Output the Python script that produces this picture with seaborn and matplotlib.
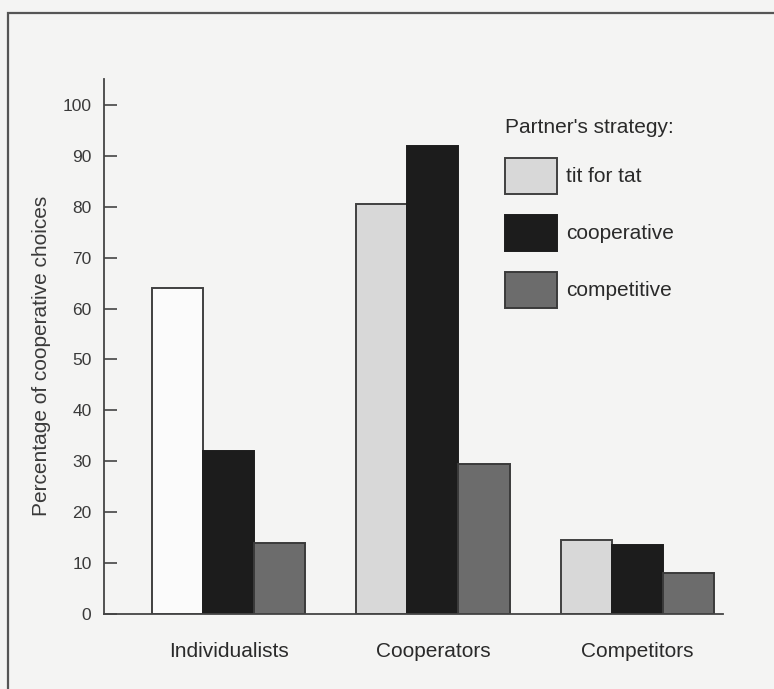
import matplotlib
matplotlib.use("Agg")
import matplotlib.pyplot as plt
import seaborn as sns
import pandas as pd
from matplotlib.patches import Rectangle, Patch

groups = ["Individualists", "Cooperators", "Competitors"]
strategies = ["tit for tat", "cooperative", "competitive"]
tit_for_tat = [64, 80.5, 14.5]
cooperative = [32, 92, 13.5]
competitive = [14, 29.5, 8]
yticks = [0, 10, 20, 30, 40, 50, 60, 70, 80, 90, 100]

rows = []
for s, vals in zip(strategies, [tit_for_tat, cooperative, competitive]):
    for g, v in zip(groups, vals):
        rows.append({"group": g, "strategy": s, "pct": v})
df = pd.DataFrame(rows)

bg = "#f4f4f3"
colors = {"tit for tat": "#d8d8d8", "cooperative": "#1c1c1c", "competitive": "#6c6c6c"}
edges = {"tit for tat": "#404040", "cooperative": "#1c1c1c", "competitive": "#3a3a3a"}

sns.set_style("white")
plt.rcParams["font.family"] = ["Liberation Sans", "DejaVu Sans"]

fig = plt.figure(figsize=(7.74, 6.89), dpi=100, facecolor=bg)
ax = fig.add_axes([104/774, 1-614/689, (723-104)/774, (614-79.5)/689])
ax.set_facecolor(bg)

sns.barplot(data=df, x="group", y="pct", hue="strategy", order=groups,
            hue_order=strategies, palette=colors, width=0.75, gap=0,
            ax=ax, legend=False, saturation=1)

for s, cont in zip(strategies, ax.containers):
    for p in cont:
        p.set_edgecolor(edges[s])
        p.set_linewidth(1.4)
# first tit-for-tat bar appears white in the reference
ax.containers[0][0].set_facecolor("#fbfbfb")

ax.set_ylim(0, 105)
ax.set_xlim(-0.61, 2.42)
ax.set_yticks(yticks)
ax.set_yticklabels([str(t) for t in yticks])
ax.tick_params(axis="y", direction="in", length=9, width=1.2, color="#444",
               labelsize=12.5, labelcolor="#3a3a3a", pad=9, left=True)
ax.tick_params(axis="x", length=0, labelsize=15, labelcolor="#2a2a2a", pad=20)
for side in ["top", "right"]:
    ax.spines[side].set_visible(False)
for side in ["left", "bottom"]:
    ax.spines[side].set_color("#444")
    ax.spines[side].set_linewidth(1.3)
ax.set_xlabel("")
ax.set_ylabel("Percentage of cooperative choices", fontsize=15, color="#3a3a3a")
ax.yaxis.set_label_coords(-0.085, 0.483)

handles = [Patch(facecolor=colors[s], edgecolor=edges[s], linewidth=1.4) for s in strategies]
leg = fig.legend(handles, strategies, title="Partner's strategy:", loc="upper left",
                 bbox_to_anchor=(505/774, 1-118/689), frameon=False, fontsize=15,
                 title_fontsize=15, handlelength=2.5, handleheight=2.29,
                 labelspacing=1.0, handletextpad=0.43, borderpad=0, borderaxespad=0,
                 alignment="left")
for t in leg.get_texts():
    t.set_color("#2a2a2a")
leg.get_title().set_color("#2a2a2a")

fig.patches.append(Rectangle((8/774, -0.05), 1.2, 1.05 - 13/689, transform=fig.transFigure,
                             fill=False, edgecolor="#555", linewidth=1.6))

fig.savefig("out.png", dpi=100, facecolor=bg)
